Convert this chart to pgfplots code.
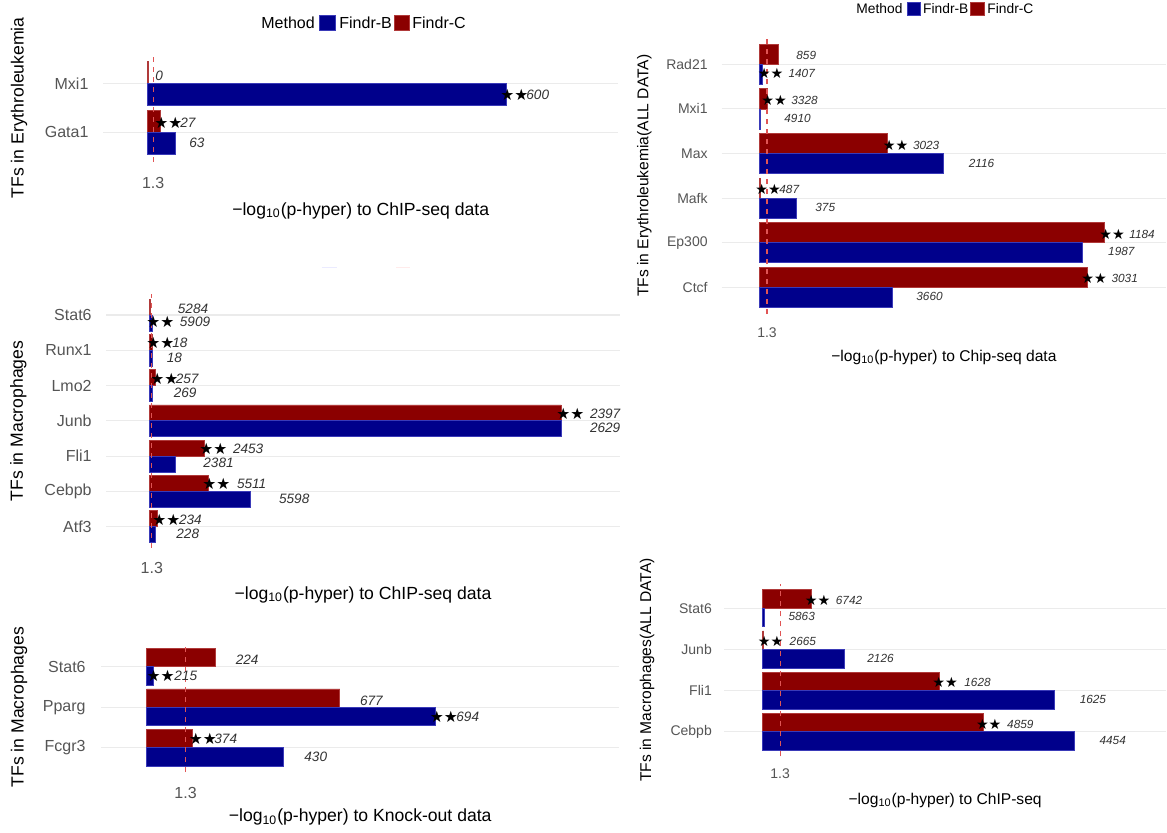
\documentclass[border=0pt]{standalone}
\usepackage{pgfplots}
\pgfplotsset{compat=1.18}
\usepackage{fontspec}
\setmainfont{Liberation Sans}
\newfontfamily\sym{DejaVu Sans}

\definecolor{fb}{HTML}{00008B}
\definecolor{fc}{HTML}{8B0000}
\definecolor{fbline}{HTML}{3A3AB8}
\definecolor{fcline}{HTML}{B03A3A}
\definecolor{gridc}{HTML}{EBEBEB}
\definecolor{tickc}{HTML}{555555}
\definecolor{valc}{HTML}{333333}
\definecolor{dashc}{HTML}{E05555}

% label helper: x and y in pixels of the reference (1px = 0.5pt)
\newcommand{\lab}[4][]{\node[inner sep=0pt, anchor=west, #1] at ({#2*0.5pt},{-#3*0.5pt}) {#4};}

\tikzset{
  vb/.style={font=\fontsize{6.8}{8}\selectfont\itshape, text=valc},
  sb/.style={font=\fontsize{7.8}{8}\selectfont\sym, text=black},
  vs/.style={font=\fontsize{5.9}{7}\selectfont\itshape, text=valc},
  ss/.style={font=\fontsize{7.1}{7}\selectfont\sym, text=black},
  tb/.style={font=\fontsize{8.8}{10}\selectfont, text=black, anchor=center},
  ts/.style={font=\fontsize{7.8}{9}\selectfont, text=black, anchor=center},
}

\pgfplotsset{
  panel/.style={scale only axis, anchor=north west,
    axis line style={draw=none}, major tick length=0pt, tick style={draw=none},
    ymajorgrids, major grid style={draw=gridc, line width=0.55pt},
    xtick={1.3}, xticklabels={1.3},
    yticklabel style={inner sep=0pt, text=tickc, anchor=east},
    xticklabel style={inner sep=0pt, text=tickc, anchor=center}},
  barC/.style={xbar, bar width=0.45, bar shift=0.225, fill=fc, draw=fcline, line width=0.35pt},
  barB/.style={xbar, bar width=0.45, bar shift=-0.225, fill=fb, draw=fbline, line width=0.35pt},
  dashl/.style={draw=dashc, line width=0.55pt, dash pattern=on 2.5pt off 2.5pt, mark=none},
}

\begin{document}
\begin{tikzpicture}
\useasboundingbox (0,0) rectangle (583.5pt,-416.5pt);
\fill[white] (0,0) rectangle (583.5pt,-416.5pt);

% ---------- top left: erythroleukemia ----------
\begin{axis}[panel, at={(51.65pt,-26.95pt)}, width=257.35pt, height=53.9pt,
  xmin=-9.87, xmax=105.5, ymin=0.4, ymax=2.6,
  ytick={1,2}, yticklabels={Gata1,Mxi1},
  yticklabel style={font=\fontsize{8}{9}\selectfont, xshift=-7.25pt},
  xticklabel style={font=\fontsize{8}{9}\selectfont, yshift=-10.5pt}]
\addplot[barC] coordinates {(3.0,1) (0.15,2)};
\addplot[barB] coordinates {(6.2,1) (80.4,2)};
\addplot[dashl] coordinates {(1.3,0.4) (1.3,2.6)};
\end{axis}

% ---------- middle left: macrophages ----------
\begin{axis}[panel, at={(53pt,-146.9pt)}, width=257pt, height=127.05pt,
  xmin=-23.5, xmax=254.9, ymin=0.4, ymax=7.6,
  ytick={1,...,7}, yticklabels={Atf3,Cebpb,Fli1,Junb,Lmo2,Runx1,Stat6},
  yticklabel style={font=\fontsize{8}{9}\selectfont, xshift=-7pt},
  xticklabel style={font=\fontsize{8}{9}\selectfont, yshift=-10.2pt}]
\addplot[barC] coordinates {(4.1,1) (31.7,2) (29.6,3) (223.0,4) (3.25,5) (1.5,6) (0.5,7)};
\addplot[barB] coordinates {(3.0,1) (54.5,2) (14.1,3) (223.4,4) (1.4,5) (1.5,6) (1.5,7)};
\addplot[dashl] coordinates {(1.3,0.4) (1.3,7.6)};
\end{axis}

% ---------- bottom left: knock-out ----------
\begin{axis}[panel, at={(50.7pt,-321.2pt)}, width=258.8pt, height=64.8pt,
  xmin=-1.507, xmax=15.75, ymin=0.4, ymax=3.6,
  ytick={1,2,3}, yticklabels={Fcgr3,Pparg,Stat6},
  yticklabel style={font=\fontsize{8}{9}\selectfont, xshift=-7.7pt},
  xticklabel style={font=\fontsize{8}{9}\selectfont, yshift=-10.35pt}]
\addplot[barC] coordinates {(1.53,1) (6.44,2) (2.28,3)};
\addplot[barB] coordinates {(4.55,1) (9.62,2) (0.22,3)};
\addplot[dashl] coordinates {(1.3,0.4) (1.3,3.6)};
\end{axis}

% ---------- top right: erythroleukemia, all data ----------
\begin{axis}[panel, at={(360.9pt,-18.75pt)}, width=222.1pt, height=138.3pt,
  xmin=-6.53, xmax=70.45, ymin=0.4, ymax=6.6,
  ytick={1,...,6}, yticklabels={Ctcf,Ep300,Mafk,Max,Mxi1,Rad21},
  yticklabel style={font=\fontsize{7}{8}\selectfont, xshift=-6.9pt},
  xticklabel style={font=\fontsize{7}{8}\selectfont, yshift=-9.1pt}]
\addplot[barC] coordinates {(56.8,1) (59.8,2) (0.23,3) (22.2,4) (1.3,5) (3.2,6)};
\addplot[barB] coordinates {(23.0,1) (55.9,2) (6.4,3) (31.9,4) (0.1,5) (0.47,6)};
\addplot[dashl] coordinates {(1.3,0.4) (1.3,6.6)};
\end{axis}

% ---------- bottom right: macrophages, all data ----------
\begin{axis}[panel, at={(362.1pt,-291.8pt)}, width=220.9pt, height=86.4pt,
  xmin=-2.85, xmax=29.98, ymin=0.4, ymax=4.6,
  ytick={1,...,4}, yticklabels={Cebpb,Fli1,Junb,Stat6},
  yticklabel style={font=\fontsize{7}{8}\selectfont, xshift=-6pt},
  xticklabel style={font=\fontsize{7}{8}\selectfont, yshift=-8.8pt}]
\addplot[barC] coordinates {(16.4,1) (13.1,2) (0.08,3) (3.59,4)};
\addplot[barB] coordinates {(23.2,1) (21.7,2) (6.06,3) (0.1,4)};
\addplot[dashl] coordinates {(1.3,0.4) (1.3,4.6)};
\end{axis}

% ---------- axis titles ----------
\lab[tb]{360.7}{210.7}{−log\textsubscript{10}(p-hyper) to ChIP-seq data}
\lab[tb]{363}{595}{−log\textsubscript{10}(p-hyper) to ChIP-seq data}
\lab[tb]{360.2}{817.3}{−log\textsubscript{10}(p-hyper) to Knock-out data}
\lab[ts]{943.9}{357.3}{−log\textsubscript{10}(p-hyper) to Chip-seq data}
\lab[ts]{945.1}{800}{−log\textsubscript{10}(p-hyper) to ChIP-seq}
\lab[tb, rotate=90]{19}{107.8}{TFs in Erythroleukemia}
\lab[tb, rotate=90]{18.4}{420.9}{TFs in Macrophages}
\lab[tb, rotate=90]{19}{707.2}{TFs in Macrophages}
\lab[ts, rotate=90]{644.4}{175.8}{TFs in Erythroleukemia(ALL DATA)}
\lab[ts, rotate=90]{647}{670}{TFs in Macrophages(ALL DATA)}

% ---------- legends ----------
\lab[font=\fontsize{8}{9}\selectfont]{261}{23}{Method}
\filldraw[fill=fb, draw=fbline, line width=0.35pt] (319*0.5pt,-15.5*0.5pt) rectangle (335*0.5pt,-30.5*0.5pt);
\lab[font=\fontsize{8}{9}\selectfont]{339}{23}{Findr-B}
\filldraw[fill=fc, draw=fcline, line width=0.35pt] (394*0.5pt,-15.5*0.5pt) rectangle (409*0.5pt,-30.5*0.5pt);
\lab[font=\fontsize{8}{9}\selectfont]{412}{23}{Findr-C}

\lab[font=\fontsize{6.9}{8}\selectfont]{856}{8.3}{Method}
\filldraw[fill=fb, draw=fbline, line width=0.35pt] (907.4*0.5pt,-2*0.5pt) rectangle (920.4*0.5pt,-15*0.5pt);
\lab[font=\fontsize{6.9}{8}\selectfont]{922.8}{8.3}{Findr-B}
\filldraw[fill=fc, draw=fcline, line width=0.35pt] (970.8*0.5pt,-2*0.5pt) rectangle (984.5*0.5pt,-15*0.5pt);
\lab[font=\fontsize{6.9}{8}\selectfont]{987}{8.3}{Findr-C}

% faint leftovers between the two left panels
\draw[blue!8, line width=0.6pt] (321.7*0.5pt,-267.7*0.5pt) -- (336.7*0.5pt,-267.7*0.5pt);
\draw[red!8, line width=0.6pt] (396*0.5pt,-267.7*0.5pt) -- (410*0.5pt,-267.7*0.5pt);

% ---------- value labels, top left ----------
\lab[vb]{155}{76}{0}
\lab[sb]{500}{95}{★★}\lab[vb]{526}{95}{600}
\lab[sb]{154}{123}{★★}\lab[vb]{180}{123}{27}
\lab[vb]{189}{143}{63}

% ---------- value labels, middle left ----------
\lab[vb]{177.5}{309}{5284}
\lab[sb]{146}{322.3}{★★}\lab[vb]{179.5}{322.3}{5909}
\lab[sb]{146}{343.3}{★★}\lab[vb]{172}{343.3}{18}
\lab[vb]{166.5}{357.7}{18}
\lab[sb]{150}{379}{★★}\lab[vb]{175.4}{379}{257}
\lab[vb]{173.4}{393.3}{269}
\lab[sb]{556}{414.3}{★★}\lab[vb]{589.6}{414.3}{2397}
\lab[vb]{589.6}{427.7}{2629}
\lab[sb]{199}{449.3}{★★}\lab[vb]{232.6}{449.3}{2453}
\lab[vb]{203}{463.3}{2381}
\lab[sb]{202}{484.3}{★★}\lab[vb]{236.6}{484.3}{5511}
\lab[vb]{278.7}{499}{5598}
\lab[sb]{152}{520}{★★}\lab[vb]{178.7}{520}{234}
\lab[vb]{176}{534.3}{228}

% ---------- value labels, bottom left ----------
\lab[vb]{235.4}{660}{224}
\lab[sb]{146.3}{675.7}{★★}\lab[vb]{174}{675.7}{215}
\lab[vb]{359.7}{701}{677}
\lab[sb]{429.5}{716.7}{★★}\lab[vb]{456}{716.7}{694}
\lab[sb]{188.4}{739.3}{★★}\lab[vb]{214}{739.3}{374}
\lab[vb]{304}{756.7}{430}

% ---------- value labels, top right ----------
\lab[vs]{796}{55.7}{859}
\lab[ss]{757.4}{73.3}{★★}\lab[vs]{788.2}{73.3}{1407}
\lab[ss]{760.9}{100}{★★}\lab[vs]{791}{100}{3328}
\lab[vs]{784}{118.3}{4910}
\lab[ss]{882.5}{145}{★★}\lab[vs]{912.6}{145}{3023}
\lab[vs]{968.4}{163.3}{2116}
\lab[ss]{755}{189.3}{★★}\lab[vs]{779}{189.3}{487}
\lab[vs]{815}{207.3}{375}
\lab[ss]{1099}{234.3}{★★}\lab[vs]{1129}{234.3}{1184}
\lab[vs]{1107.8}{251.7}{1987}
\lab[ss]{1081}{278.3}{★★}\lab[vs]{1111.2}{278.3}{3031}
\lab[vs]{916}{296.7}{3660}

% ---------- value labels, bottom right ----------
\lab[ss]{804.4}{600}{★★}\lab[vs]{835.5}{600}{6742}
\lab[vs]{788.2}{616.7}{5863}
\lab[ss]{757.4}{641}{★★}\lab[vs]{789.3}{641}{2665}
\lab[vs]{867}{658.3}{2126}
\lab[ss]{932}{682.7}{★★}\lab[vs]{964}{682.7}{1628}
\lab[vs]{1079.4}{699.3}{1625}
\lab[ss]{975.6}{724}{★★}\lab[vs]{1006.8}{724}{4859}
\lab[vs]{1099.2}{740}{4454}
\end{tikzpicture}
\end{document}
